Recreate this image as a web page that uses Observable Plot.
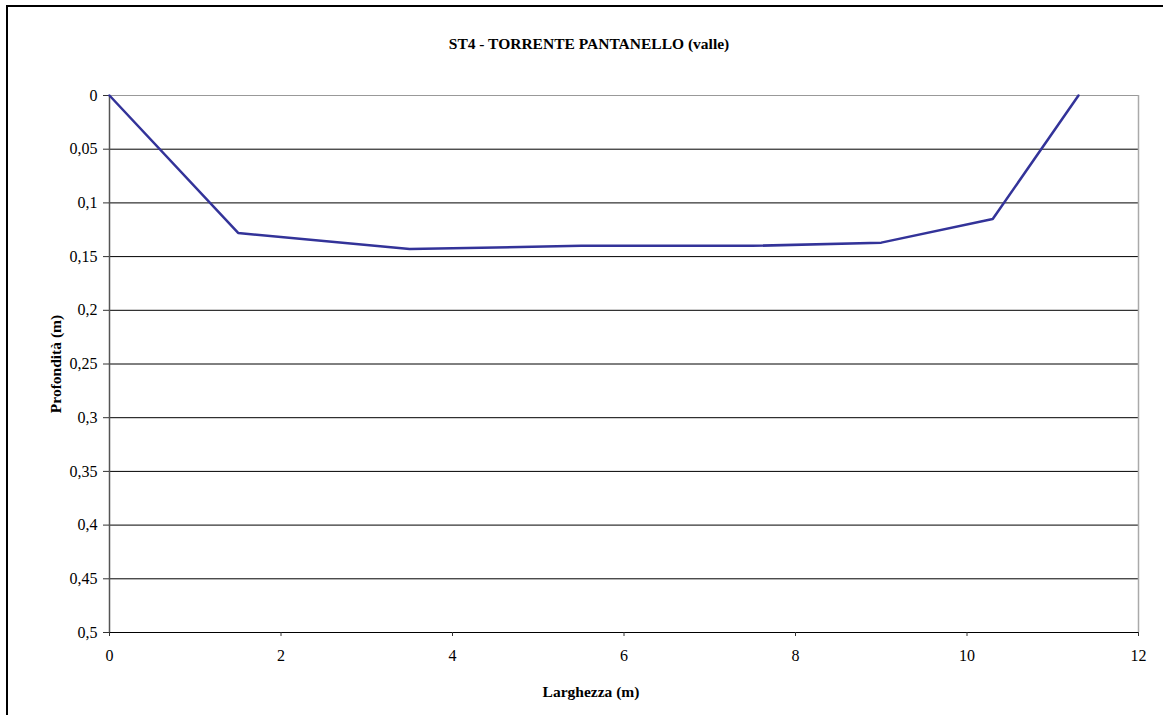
<!DOCTYPE html>
<html>
<head>
<meta charset="utf-8">
<script src="https://cdn.jsdelivr.net/npm/d3@7"></script>
<script src="https://cdn.jsdelivr.net/npm/@observablehq/plot@0.6"></script>
<style>
  html, body { margin: 0; padding: 0; background: #fff; }
  #wrap { position: relative; width: 1163px; height: 715px; }
  #frame { position: absolute; left: 6px; top: 5px; right: -4px; bottom: -4px; border-left: 2px solid #000; border-top: 2px solid #000; pointer-events: none; }
  #wrap svg text { font-family: "Liberation Serif", "Times New Roman", serif !important; }
</style>
</head>
<body>
<div id="wrap"><div id="frame"></div></div>
<script>
const larghezza = [0, 1.5, 3.5, 5.5, 7.5, 9, 10.3, 11.3];
const profondita = [0, 0.128, 0.143, 0.14, 0.14, 0.137, 0.115, 0];
const yTicks = [0, 0.05, 0.1, 0.15, 0.2, 0.25, 0.3, 0.35, 0.4, 0.45, 0.5];
const xTicks = [0, 2, 4, 6, 8, 10, 12];
const title = "ST4 - TORRENTE PANTANELLO (valle)";
const xLabel = "Larghezza (m)";
const yLabel = "Profondità (m)";

const data = larghezza.map((x, i) => ({x, y: profondita[i]}));
const font = "Liberation Serif";
const fmt = d => String(d).replace(".", ",");

const chart = Plot.plot({
  width: 1163,
  height: 715,
  marginLeft: 109,
  marginRight: 25,
  marginTop: 95,
  marginBottom: 83,
  style: {fontSize: "16px", color: "#000", background: "transparent"},
  x: {domain: [0, 12], ticks: xTicks},
  y: {domain: [0, 0.5], reverse: true, ticks: yTicks},
  marks: [
    Plot.ruleY(yTicks.filter(d => d > 0 && d < 0.5), {stroke: "#000", strokeWidth: 1}),
    Plot.ruleY([0], {stroke: "#999", strokeWidth: 1}),
    Plot.ruleX([12], {stroke: "#aaa", strokeWidth: 1.5}),
    Plot.ruleX([0], {stroke: "#555", strokeWidth: 1.5}),
    Plot.ruleY([0.5], {stroke: "#000", strokeWidth: 1.2}),
    Plot.axisY({ticks: yTicks, tickFormat: fmt, tickSize: 6, tickPadding: 6, label: null, stroke: "#333", fontSize: 16, fontFamily: font}),
    Plot.axisX({ticks: xTicks, tickFormat: fmt, tickSize: 4, tickPadding: 13, label: null, stroke: "#333", fontSize: 16, fontFamily: font}),
    Plot.line(data, {x: "x", y: "y", stroke: "#333399", strokeWidth: 2.5, strokeLinejoin: "miter"}),
    Plot.text([title], {frameAnchor: "top", dx: -35, dy: -58, fontWeight: "bold", fontSize: 15.5, fontFamily: font, fill: "#000"}),
    Plot.text([xLabel], {frameAnchor: "bottom", dx: -33, dy: 64, fontWeight: "bold", fontSize: 15.5, fontFamily: font, fill: "#000"}),
    Plot.text([yLabel], {frameAnchor: "left", dx: -53, rotate: -90, textAnchor: "middle", lineAnchor: "middle", fontWeight: "bold", fontSize: 15.5, fontFamily: font, fill: "#000"})
  ]
});
document.getElementById("wrap").prepend(chart);
</script>
</body>
</html>
